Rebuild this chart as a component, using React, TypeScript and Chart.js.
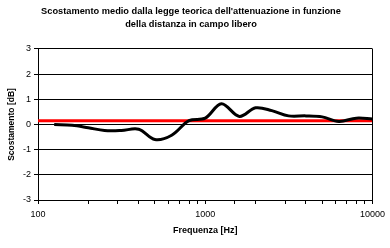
import React, { useEffect, useRef } from "react";
import { Chart, registerables } from "chart.js";

Chart.register(...registerables);

const titleLines = [
  "Scostamento medio dalla legge teorica dell'attenuazione in funzione",
  "della distanza in campo libero",
];
const frequencies = [125, 160, 200, 250, 315, 400, 500, 630, 800, 1000, 1250, 1600, 2000, 2500, 3150, 4000, 5000, 6300, 8000, 10000];
const deviation = [0.0, -0.03, -0.13, -0.24, -0.24, -0.19, -0.6, -0.43, 0.15, 0.25, 0.82, 0.32, 0.66, 0.55, 0.34, 0.34, 0.3, 0.12, 0.25, 0.22];
const referenceFreq = [100, 10000];
const referenceValue = [0.15, 0.15];
const yTicks = [-3, -2, -1, 0, 1, 2, 3];
const xLabels = [100, 1000, 10000];

const FONT = "'Liberation Sans', Arial, sans-serif";

const borderPlugin = {
  id: "frameBorder",
  afterDatasetsDraw(chart: any) {
    const { ctx, chartArea } = chart;
    ctx.save();
    ctx.strokeStyle = "#000";
    ctx.lineWidth = 1;
    ctx.beginPath();
    ctx.moveTo(Math.round(chartArea.right) + 0.5, chartArea.top);
    ctx.lineTo(Math.round(chartArea.right) + 0.5, chartArea.bottom);
    ctx.stroke();
    ctx.restore();
  },
};

export default function App() {
  const ref = useRef<HTMLCanvasElement>(null);
  useEffect(() => {
    document.body.style.margin = "0";
    const chart = new Chart(ref.current!, {
      type: "line",
      data: {
        datasets: [
          {
            label: "Scostamento",
            data: frequencies.map((f, i) => ({ x: f, y: deviation[i] })),
            borderColor: "#000",
            borderWidth: 3,
            pointRadius: 0,
            tension: 0.35,
            fill: false,
          },
          {
            label: "Riferimento",
            data: referenceFreq.map((f, i) => ({ x: f, y: referenceValue[i] })),
            borderColor: "#ff0000",
            borderWidth: 3,
            pointRadius: 0,
            fill: false,
          },
        ],
      },
      options: {
        animation: false,
        responsive: false,
        layout: { padding: { left: 7, right: 15, top: 0, bottom: 12 } },
        plugins: {
          legend: { display: false },
          tooltip: { enabled: false },
          title: {
            display: true,
            text: titleLines,
            color: "#000",
            font: { family: FONT, size: 9.25, weight: "bold", lineHeight: 1.4 },
            padding: { top: 5, bottom: 18 },
          },
        },
        scales: {
          x: {
            type: "logarithmic",
            min: 100,
            max: 10000,
            afterFit: (s: any) => { s.height = 36; },
            grid: { drawOnChartArea: false, drawTicks: true, tickLength: 4, color: "#000" },
            border: { color: "#000", width: 1 },
            ticks: {
              autoSkip: false,
              maxRotation: 0,
              color: "#000",
              font: { family: FONT, size: 9 },
              padding: 5,
              callback: (v: any) => (xLabels.includes(Number(v)) ? String(v) : ""),
            },
            title: {
              display: true,
              text: "Frequenza [Hz]",
              color: "#000",
              font: { family: FONT, size: 9, weight: "bold" },
              padding: { top: 2, bottom: 0 },
            },
          },
          y: {
            min: -3,
            max: 3,
            afterFit: (s: any) => { s.width = 31; },
            afterBuildTicks: (s: any) => { s.ticks = yTicks.map((v) => ({ value: v })); },
            grid: { color: "#000", lineWidth: 1, drawTicks: true, tickLength: 4 },
            border: { color: "#000", width: 1 },
            ticks: {
              color: "#000",
              font: { family: FONT, size: 9 },
              padding: 3,
            },
            title: {
              display: true,
              text: "Scostamento [dB]",
              color: "#000",
              font: { family: FONT, size: 8.5, weight: "bold" },
              padding: { top: 0, bottom: 2 },
            },
          },
        },
      },
      plugins: [borderPlugin],
    } as any);
    return () => chart.destroy();
  }, []);
  return <canvas ref={ref} width={390} height={248} style={{ display: "block" }} />;
}
